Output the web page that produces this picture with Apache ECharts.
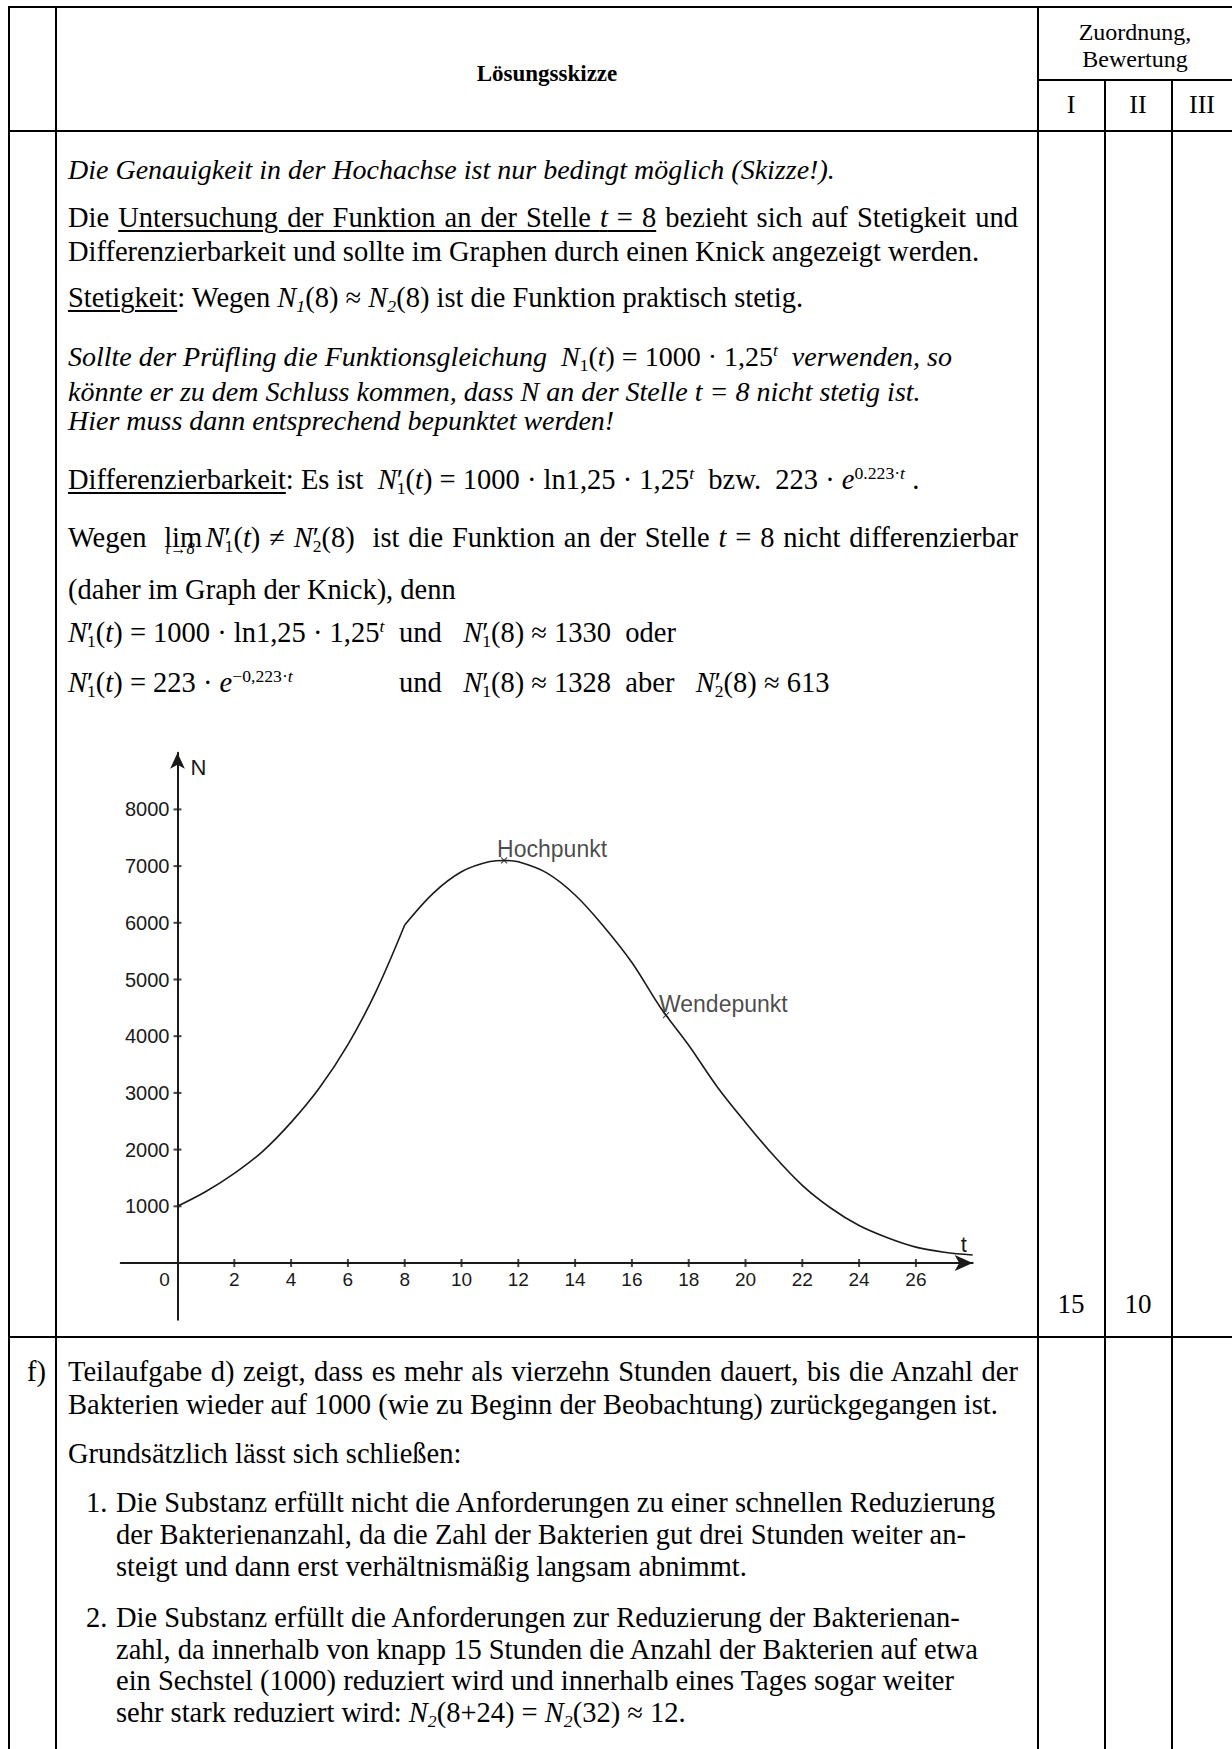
<!DOCTYPE html>
<html>
<head>
<meta charset="utf-8">
<script src="https://cdn.jsdelivr.net/npm/echarts@6/dist/echarts.min.js"></script>
<style>
  html, body { margin:0; padding:0; background:#fff; }
  body { width:1232px; height:1749px; position:relative; overflow:hidden; font-family:'Liberation Serif','Times New Roman',serif; color:#000; }
  .h { position:absolute; background:#000; height:2px; }
  .v { position:absolute; background:#000; width:2px; }
  .ln { position:absolute; white-space:nowrap; font-size:28.5px; line-height:32px; height:32px; }
  .it { font-style:italic; font-size:28px; }
  .j { width:950px; text-align:justify; text-align-last:justify; white-space:normal; overflow:visible; }
  .c { transform:translateX(-50%); }
  sub, sup { font-size:0.62em; line-height:0; }
  sub { vertical-align:-0.28em; }
  sup { vertical-align:0.55em; }
  .pr { display:inline-block; width:0; overflow:visible; }
  .lim { position:relative; display:inline-block; margin-right:0.12em; }
  .lim .un { position:absolute; left:0.08em; top:1.12em; font-size:0.58em; line-height:1; font-style:italic; white-space:nowrap; }
  u { text-decoration-thickness:1.5px; text-underline-offset:3px; }
  #chart { position:absolute; left:0; top:700px; width:1030px; height:660px; }
</style>
</head>
<body>
<!-- table lines -->
<div class="h" style="left:8px; top:6px; width:1224px;"></div>
<div class="h" style="left:1038px; top:79px; width:194px;"></div>
<div class="h" style="left:8px; top:130px; width:1224px;"></div>
<div class="h" style="left:8px; top:1336px; width:1224px;"></div>
<div class="v" style="left:8px; top:6px; height:1743px;"></div>
<div class="v" style="left:55px; top:6px; height:1743px;"></div>
<div class="v" style="left:1037px; top:6px; height:1743px;"></div>
<div class="v" style="left:1104px; top:80px; height:1669px;"></div>
<div class="v" style="left:1171px; top:80px; height:1669px;"></div>

<!-- header -->
<div class="ln c" style="left:547px; top:58px; font-weight:bold; font-size:23px;">Lösungsskizze</div>
<div class="ln c" style="left:1135px; top:17px; font-size:24px; line-height:30px;">Zuordnung,</div>
<div class="ln c" style="left:1135px; top:44px; font-size:24px; line-height:30px;">Bewertung</div>
<div class="ln c" style="left:1071px; top:89px; font-size:26px;">I</div>
<div class="ln c" style="left:1138px; top:89px; font-size:26px;">II</div>
<div class="ln c" style="left:1202px; top:89px; font-size:26px;">III</div>

<!-- row 1 text -->
<div class="ln it" style="left:68px; top:154px;">Die Genauigkeit in der Hochachse ist nur bedingt möglich (Skizze!).</div>
<div class="ln j" style="left:68px; top:202px;">Die <u>Untersuchung der Funktion an der Stelle <i>t</i> = 8</u> bezieht sich auf Stetigkeit und</div>
<div class="ln" style="left:68px; top:236px;">Differenzierbarkeit und sollte im Graphen durch einen Knick angezeigt werden.</div>
<div class="ln" style="left:68px; top:282px;"><u>Stetigkeit</u>: Wegen <i>N<sub>1</sub></i>(8) ≈ <i>N</i><sub><i>2</i></sub>(8) ist die Funktion praktisch stetig.</div>
<div class="ln it" style="left:68px; top:341px;">Sollte der Prüfling die Funktionsgleichung &nbsp;<span style="font-style:normal"><i>N</i><sub>1</sub>(<i>t</i>) = 1000 · 1,25<sup><i>t</i></sup></span>&nbsp; verwenden, so</div>
<div class="ln it" style="left:68px; top:376px;">könnte er zu dem Schluss kommen, dass N an der Stelle t = 8 nicht stetig ist.</div>
<div class="ln it" style="left:68px; top:405px;">Hier muss dann entsprechend bepunktet werden!</div>
<div class="ln" style="left:68px; top:464px;"><u>Differenzierbarkeit</u>: Es ist &nbsp;<i>N</i><span class="pr">′</span><sub>1</sub>(<i>t</i>) = 1000 · ln1,25 · 1,25<sup><i>t</i></sup>&nbsp; bzw. &nbsp;223 · <i>e</i><sup>0.223·<i>t</i></sup> .</div>
<div class="ln j" style="left:68px; top:522px;">Wegen &nbsp;<span class="lim">lim<span class="un">t→8</span></span><i>N</i><span class="pr">′</span><sub>1</sub>(<i>t</i>) ≠ <i>N</i><span class="pr">′</span><sub>2</sub>(8)&nbsp; ist die Funktion an der Stelle <i>t</i> = 8 nicht differenzierbar</div>
<div class="ln" style="left:68px; top:574px;">(daher im Graph der Knick), denn</div>
<div class="ln" style="left:68px; top:617px;"><i>N</i><span class="pr">′</span><sub>1</sub>(<i>t</i>) = 1000 · ln1,25 · 1,25<sup><i>t</i></sup></div>
<div class="ln" style="left:399px; top:617px;">und &nbsp;&nbsp;<i>N</i><span class="pr">′</span><sub>1</sub>(8) ≈ 1330&nbsp; oder</div>
<div class="ln" style="left:68px; top:667px;"><i>N</i><span class="pr">′</span><sub>1</sub>(<i>t</i>) = 223 · <i>e</i><sup>−0,223·<i>t</i></sup></div>
<div class="ln" style="left:399px; top:667px;">und &nbsp;&nbsp;<i>N</i><span class="pr">′</span><sub>1</sub>(8) ≈ 1328&nbsp; aber &nbsp;&nbsp;<i>N</i><span class="pr">′</span><sub>2</sub>(8) ≈ 613</div>

<div class="ln c" style="left:1071px; top:1288px; font-size:27px;">15</div>
<div class="ln c" style="left:1138px; top:1288px; font-size:27px;">10</div>

<!-- row f -->
<div class="ln" style="left:27px; top:1356px;">f)</div>
<div class="ln j" style="left:68px; top:1356px;">Teilaufgabe d) zeigt, dass es mehr als vierzehn Stunden dauert, bis die Anzahl der</div>
<div class="ln" style="left:68px; top:1389px;">Bakterien wieder auf 1000 (wie zu Beginn der Beobachtung) zurückgegangen ist.</div>
<div class="ln" style="left:68px; top:1438px;">Grundsätzlich lässt sich schließen:</div>
<div class="ln" style="left:86px; top:1487px;">1.</div>
<div class="ln" style="left:116px; top:1487px;">Die Substanz erfüllt nicht die Anforderungen zu einer schnellen Reduzierung</div>
<div class="ln" style="left:116px; top:1519px;">der Bakterienanzahl, da die Zahl der Bakterien gut drei Stunden weiter an-</div>
<div class="ln" style="left:116px; top:1551px;">steigt und dann erst verhältnismäßig langsam abnimmt.</div>
<div class="ln" style="left:86px; top:1602px;">2.</div>
<div class="ln" style="left:116px; top:1602px;">Die Substanz erfüllt die Anforderungen zur Reduzierung der Bakterienan-</div>
<div class="ln" style="left:116px; top:1634px;">zahl, da innerhalb von knapp 15 Stunden die Anzahl der Bakterien auf etwa</div>
<div class="ln" style="left:116px; top:1665px;">ein Sechstel (1000) reduziert wird und innerhalb eines Tages sogar weiter</div>
<div class="ln" style="left:116px; top:1697px;">sehr stark reduziert wird: <i>N</i><sub><i>2</i></sub>(8+24) = <i>N</i><sub><i>2</i></sub>(32) ≈ 12.</div>

<div id="chart"></div>

<script>
// ---- chart data ----
const tN1 = [0, 1, 2, 3, 4, 5, 6, 7, 8];
const nN1 = [1000, 1260, 1580, 1970, 2480, 3090, 3850, 4800, 5960];
const tN2 = [8, 9, 10, 11, 11.5, 12, 13, 14, 15, 16, 17, 18, 19, 20, 21, 22, 23, 24, 25, 26, 27, 28];
const nN2 = [5960, 6520, 6900, 7080, 7100, 7075, 6880, 6490, 5940, 5300, 4510, 3840, 3110, 2480, 1890, 1370, 970, 660, 445, 280, 190, 140];
const pointNames = ['Hochpunkt', 'Wendepunkt'];
const pointT = [11.5, 17.2];
const pointN = [7100, 4370];
const xTickValues = [2, 4, 6, 8, 10, 12, 14, 16, 18, 20, 22, 24, 26];
const xLabelValues = [0, 2, 4, 6, 8, 10, 12, 14, 16, 18, 20, 22, 24, 26];
const yTickValues = [1000, 2000, 3000, 4000, 5000, 6000, 7000, 8000];

const ink = '#1a1a1a';
const font = "'Liberation Sans', Arial, sans-serif";

const chart = echarts.init(document.getElementById('chart'), null, { renderer: 'svg' });
const pair = (ts, ns) => ts.map((t, i) => [t, ns[i]]);

chart.setOption({
  animation: false,
  backgroundColor: 'transparent',
  grid: { left: 120.7, top: 52.7, width: 852, height: 567, containLabel: false },
  xAxis: {
    type: 'value', min: -2, max: 28, interval: 2,
    position: 'bottom', offset: -56.7,
    name: 't', nameLocation: 'end', nameGap: -9,
    nameTextStyle: { fontFamily: font, fontSize: 22, color: ink, align: 'center', verticalAlign: 'bottom', padding: [0, 0, 8, 0] },
    axisLine: { onZero: false, symbol: ['none', 'arrow'], symbolSize: [12, 18], lineStyle: { color: ink, width: 2 } },
    axisTick: { show: false },
    splitLine: { show: false },
    axisLabel: {
      customValues: xLabelValues, margin: 7, fontFamily: font, fontSize: 19, color: ink,
      formatter: v => v === 0 ? '{z|0}' : String(v),
      rich: { z: { fontFamily: font, fontSize: 19, color: ink, padding: [0, 26, 0, 0] } }
    }
  },
  yAxis: {
    type: 'value', min: -1000, max: 9000, interval: 1000,
    position: 'left', offset: -56.8,
    name: 'N', nameLocation: 'end', nameGap: -15,
    nameTextStyle: { fontFamily: font, fontSize: 22, color: ink, align: 'left', verticalAlign: 'middle', padding: [0, 0, 0, 13] },
    axisLine: { onZero: false, symbol: ['none', 'arrow'], symbolSize: [11, 16], lineStyle: { color: ink, width: 2 } },
    axisTick: { show: false },
    splitLine: { show: false },
    axisLabel: { customValues: yTickValues, margin: 8, fontFamily: font, fontSize: 20, color: ink, formatter: v => String(v) }
  },
  series: [
    { type: 'line', data: pair(tN1, nN1), smooth: 0.35, symbol: 'none', lineStyle: { color: ink, width: 1.6 } },
    { type: 'line', data: pair(tN2, nN2), smooth: 0.35, symbol: 'none', lineStyle: { color: ink, width: 1.6 } },
    {
      type: 'scatter', data: xTickValues.map(t => [t, 0]), symbol: 'rect', symbolSize: [2, 8],
      itemStyle: { color: ink }, silent: true
    },
    {
      type: 'scatter', data: yTickValues.map(n => [0, n]), symbol: 'rect', symbolSize: [8, 2],
      itemStyle: { color: ink }, silent: true
    },
    {
      type: 'scatter',
      data: pointNames.map((name, i) => ({ name, value: [pointT[i], pointN[i]] })),
      symbol: 'path://M0 0L10 10M10 0L0 10', symbolSize: 6,
      itemStyle: { color: 'transparent', borderColor: ink, borderWidth: 1.1 },
      label: {
        show: true, position: 'top', distance: 0, align: 'left', offset: [-7, 4],
        formatter: p => p.name, fontFamily: font, fontSize: 23, color: ink
      },
      z: 5
    }
  ]
});
</script>
</body>
</html>
